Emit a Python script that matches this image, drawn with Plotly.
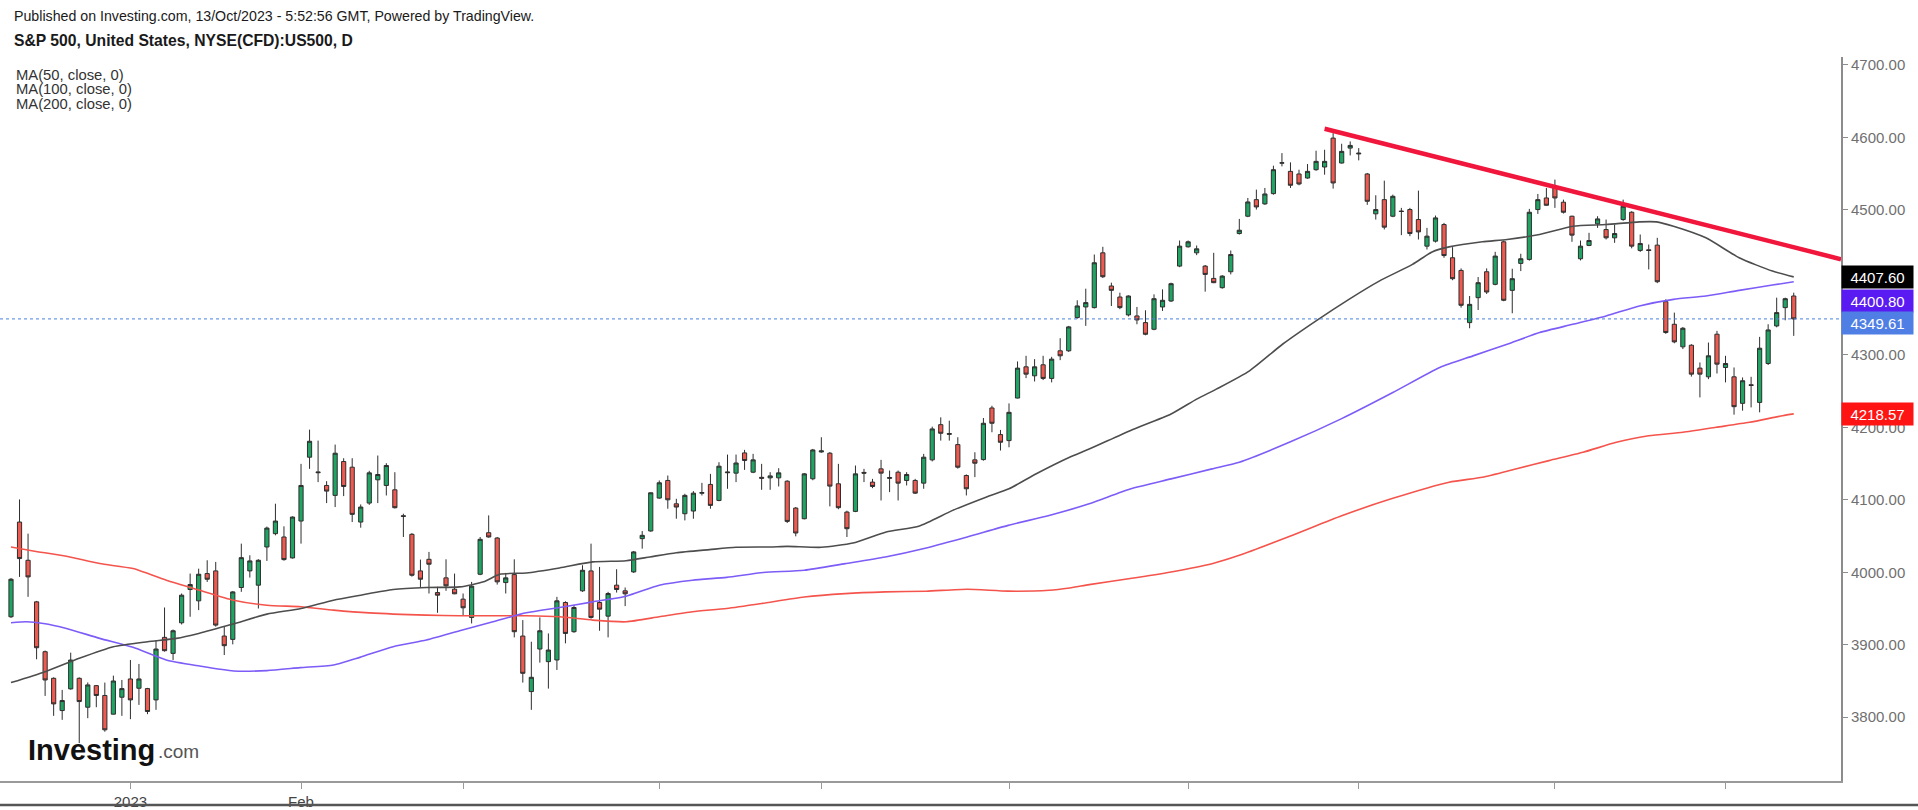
import plotly.graph_objects as go

# ---------------- data ----------------
opens = [3938.6,4069.3,4016.6,3959.2,3890.4,3853.7,3809.2,3839.1,3853.7,3813.8,
3843.6,3830.0,3804.2,3827.6,3852.8,3840.0,3839.5,3823.9,3910.2,3888.1,
3930.3,3976.2,3960.6,3998.2,4001.9,3912.0,3907.4,3979.0,4001.9,3982.2,
4034.9,4053.3,4048.7,4019.8,4070.7,4158.8,4138.5,4119.8,4106.1,4152.8,
4145.0,4069.3,4095.5,4127.6,4119.8,4113.8,4078.0,4052.4,4001.9,4017.9,
3972.0,3992.3,3976.7,3962.9,3937.7,3997.3,4054.6,4047.3,3985.8,3996.8,
3912.0,3835.4,3894.1,3876.7,3879.0,3958.3,3918.0,3974.4,4001.9,3958.3,
3939.5,3982.2,3974.4,4000.5,4046.4,4057.0,4102.4,4126.7,4094.5,4080.8,
4084.5,4109.0,4121.2,4099.1,4138.5,4136.8,4164.7,4138.1,4131.0,4130.3,
4130.3,4125.7,4088.6,4073.9,4129.0,4166.0,4164.3,4122.1,4083.1,4084.0,
4137.8,4124.4,4142.7,4130.8,4138.1,4126.7,4126.7,4123.0,4155.1,4203.7,
4191.5,4176.2,4133.5,4155.1,4155.5,4226.7,4190.0,4181.7,4240.4,4283.5,
4271.1,4286.3,4267.5,4305.6,4305.6,4351.4,4366.1,4365.2,4440.8,4395.0,
4379.8,4355.1,4353.7,4344.5,4335.3,4366.1,4374.3,4422.5,4449.1,4440.8,
4422.5,4405.5,4392.7,4414.7,4467.4,4491.3,4514.2,4508.3,4522.5,4564.5,
4553.2,4549.6,4544.0,4555.5,4559.2,4599.1,4564.7,4585.3,4578.5,4549.6,
4494.6,4514.2,4491.3,4498.5,4500.5,4486.7,4450.0,4456.9,4479.8,4434.0,
4416.5,4344.5,4378.9,4414.7,4397.3,4456.0,4389.0,4426.2,4431.7,4500.5,
4516.5,4530.3,4510.6,4491.3,4432.6,4451.0,4480.8,4472.9,4461.5,4486.7,
4496.8,4444.1,4445.0,4451.4,4373.4,4342.2,4311.1,4313.3,4281.7,4269.7,
4328.5,4282.6,4269.7,4233.1,4258.8,4234.4,4288.1,4339.9,4365.2,4381.2]

highs = [3992.0,4100.5,4053.3,3960.5,3892.0,3855.0,3837.7,3889.1,3855.0,3848.0,
3844.5,3847.8,3857.4,3851.4,3879.0,3873.5,3840.5,3906.5,3951.4,3921.0,
3970.7,3998.2,4005.0,4016.6,4014.3,3924.8,3974.0,4039.5,4023.5,4018.0,
4063.0,4094.6,4063.4,4077.1,4149.6,4196.8,4181.7,4125.7,4176.2,4157.4,
4157.4,4093.6,4140.0,4161.1,4150.5,4138.1,4080.8,4054.0,4017.5,4028.1,
3979.9,4017.9,3998.2,3970.7,3986.7,4048.7,4078.5,4048.7,3999.1,4017.9,
3934.0,3904.2,3937.7,3915.6,3966.1,3960.0,3954.6,4009.7,4039.5,4007.4,
3973.0,4004.2,3979.0,4029.4,4056.9,4110.0,4126.7,4133.5,4101.4,4108.3,
4112.0,4123.4,4135.8,4151.9,4162.4,4162.4,4168.9,4163.4,4149.6,4138.1,
4143.6,4127.0,4090.0,4137.0,4170.2,4186.3,4166.0,4149.6,4085.0,4147.3,
4142.7,4128.9,4155.1,4140.4,4140.4,4138.1,4128.9,4163.4,4201.0,4213.8,
4209.2,4186.3,4135.0,4165.6,4212.9,4229.8,4196.4,4233.0,4290.9,4298.7,
4294.1,4298.7,4297.3,4323.0,4340.0,4375.3,4391.3,4438.5,4449.1,4399.6,
4385.8,4382.1,4366.1,4361.5,4383.5,4390.4,4399.6,4457.8,4457.8,4450.9,
4424.0,4440.8,4410.0,4444.0,4487.6,4516.5,4528.0,4530.3,4561.0,4578.4,
4565.6,4555.5,4563.3,4581.7,4583.0,4606.0,4591.3,4594.5,4585.3,4551.0,
4520.2,4540.4,4521.1,4502.8,4502.8,4526.6,4475.2,4492.2,4482.1,4448.6,
4419.3,4381.2,4407.4,4419.3,4442.2,4457.8,4418.8,4439.5,4501.4,4522.0,
4530.3,4541.8,4514.2,4492.0,4457.8,4468.4,4491.3,4486.7,4479.8,4514.2,
4498.2,4466.1,4452.3,4461.5,4376.6,4358.3,4338.5,4314.7,4289.5,4317.0,
4333.1,4298.7,4282.6,4268.8,4269.7,4324.8,4342.2,4378.9,4378.9,4385.8]

lows = [3937.0,3993.6,3966.1,3879.9,3829.4,3801.9,3796.4,3838.0,3764.3,3798.7,
3813.8,3780.0,3804.0,3801.9,3797.3,3817.0,3804.2,3810.2,3890.5,3879.0,
3928.0,3938.6,3947.8,3986.7,3925.0,3885.8,3900.5,3973.0,3992.7,3950.0,
4015.7,4051.0,4016.0,4019.0,4039.5,4142.7,4124.4,4095.5,4090.0,4105.1,
4069.3,4061.5,4093.0,4095.5,4106.0,4088.0,4048.7,3994.0,3978.5,3970.7,
3944.1,3974.4,3969.8,3940.9,3929.4,3996.0,4047.8,3983.0,3970.7,3910.2,
3847.8,3810.2,3875.3,3839.5,3865.2,3901.9,3916.6,3973.0,3936.0,3919.3,
3910.2,3972.0,3953.3,3999.1,4032.6,4056.0,4101.4,4087.7,4073.9,4071.6,
4073.9,4106.0,4087.7,4098.0,4115.2,4124.4,4141.3,4136.8,4113.8,4113.8,
4118.4,4068.0,4049.6,4073.0,4127.0,4165.0,4090.9,4087.0,4048.7,4083.0,
4124.4,4116.1,4099.1,4110.6,4099.1,4119.8,4108.0,4115.2,4153.0,4181.7,
4181.7,4143.0,4106.0,4131.3,4154.0,4193.2,4168.0,4172.5,4240.0,4267.9,
4263.3,4265.2,4262.0,4292.7,4304.0,4350.0,4340.0,4364.0,4406.0,4367.4,
4363.0,4353.0,4342.2,4327.0,4334.0,4360.6,4373.0,4421.0,4448.0,4437.6,
4387.2,4399.0,4391.3,4411.0,4466.0,4490.0,4500.5,4507.0,4521.0,4560.1,
4530.3,4534.0,4543.0,4554.0,4548.6,4529.4,4564.0,4575.2,4568.4,4507.0,
4486.7,4473.0,4490.0,4465.2,4463.8,4459.2,4445.4,4455.0,4434.0,4403.0,
4365.2,4336.7,4361.9,4384.0,4396.0,4374.0,4357.4,4415.6,4430.0,4494.5,
4506.0,4502.8,4495.0,4456.0,4430.3,4450.0,4475.2,4459.2,4454.6,4485.0,
4447.0,4442.0,4417.9,4399.0,4329.0,4316.0,4308.0,4270.0,4241.3,4266.5,
4274.3,4262.0,4217.5,4223.0,4227.5,4220.7,4286.0,4338.0,4347.7,4326.2]

closes = [3990.4,4018.9,3993.6,3895.9,3851.4,3818.4,3823.0,3878.9,3821.6,3844.6,
3830.0,3782.6,3850.0,3839.5,3823.9,3852.8,3807.9,3894.1,3891.8,3919.3,
3968.4,3983.1,3997.3,3990.4,3927.1,3898.7,3972.9,4020.2,4015.7,4016.6,
4061.0,4070.7,4017.5,4076.2,4119.8,4180.8,4137.5,4112.0,4164.3,4118.4,
4079.9,4090.0,4137.2,4134.9,4147.3,4089.1,4077.2,3995.9,3990.4,4011.1,
3968.4,3981.3,3970.3,3951.0,3980.8,4045.5,4048.7,3986.8,3992.3,3918.0,
3860.6,3855.1,3919.3,3892.7,3960.6,3915.6,3951.4,4002.8,3937.7,3949.1,
3970.7,3976.2,3970.3,4028.1,4051.0,4109.7,4123.5,4100.0,4090.0,4106.1,
4109.2,4110.0,4092.3,4146.4,4137.5,4150.8,4154.2,4155.1,4129.8,4133.0,
4137.2,4070.2,4054.2,4135.8,4168.8,4167.5,4118.9,4089.1,4060.1,4135.8,
4136.8,4118.4,4136.8,4129.8,4123.0,4134.9,4109.2,4158.8,4197.8,4191.8,
4190.5,4145.0,4115.2,4150.5,4205.6,4205.6,4179.4,4220.7,4281.7,4273.4,
4283.5,4267.5,4294.1,4298.7,4338.6,4367.5,4372.1,4427.1,4407.8,4389.0,
4365.2,4381.2,4348.2,4328.4,4377.5,4375.3,4398.2,4450.0,4456.0,4446.3,
4411.0,4399.6,4408.7,4438.5,4472.0,4511.0,4504.1,4522.0,4555.5,4565.0,
4534.0,4535.8,4553.2,4567.0,4567.0,4537.2,4580.8,4589.0,4577.5,4511.9,
4500.5,4476.2,4518.8,4497.8,4467.4,4469.7,4463.8,4489.0,4437.0,4405.1,
4368.4,4369.7,4399.6,4386.7,4436.3,4375.3,4405.1,4432.6,4496.8,4514.2,
4506.4,4516.5,4496.8,4465.2,4450.0,4457.8,4487.6,4461.5,4467.4,4505.1,
4450.0,4453.7,4444.0,4400.9,4330.8,4317.9,4336.7,4273.4,4273.4,4298.7,
4287.2,4288.1,4228.5,4264.3,4257.8,4309.2,4334.4,4358.3,4377.5,4349.61]

bars = list(range(len(opens)))

# moving averages (bar index, value)
ma50_bars = [0,4,8,12,16,19.4,22,26,30,34,37.8,41,44.8,48.7,52.6,55.4,57.3,60.4,64.3,68.2,72.1,74.9,78,81.9,85,89,91,95,98.7,102.6,106.5,110.4,114.3,117,120.2,124.1,126.4,131.2,136,139,141.3,145.2,149.1,153,156.9,160.4,164.3,166.6,168.6,172.5,175.4,179.2,183.1,187,190.9,192.9,194.9,198.7,202.6,206.5,209]
ma50_vals = [3847.8,3862.9,3881.3,3897.3,3904.2,3908.8,3915.6,3928.5,3942.3,3950.1,3961.5,3968.4,3976.2,3979.0,3979.9,3986.8,3997.3,3999.1,4006.0,4014.3,4016.0,4021.2,4027.0,4031.3,4034.5,4034.9,4035.8,4034.5,4040.4,4055.6,4064.0,4085.4,4103.7,4115.2,4136.0,4158.8,4170.0,4195.4,4218.4,4238.9,4252.7,4278.0,4315.0,4347.0,4377.0,4401.8,4424.8,4442.0,4449.0,4456.0,4459.2,4466.1,4477.5,4479.8,4483.5,4483.5,4477.5,4461.5,4434.0,4415.6,4407.6]

ma100_bars = [0,1.8,3.8,6.5,10.4,14.3,18.2,22.1,26.1,30,33.9,37.8,40.9,44.8,48.7,52.6,56.5,60.4,64.3,68.2,72.1,76,79.9,83.9,88.2,93,97.8,102.5,107.3,112.1,116.9,121.7,126.4,131.2,136,140.8,144,150,156,162,167.5,171.4,175.4,179.2,183.1,187,190.9,194.9,198.7,202.6,206.5,209]
ma100_vals = [3930.3,3931.7,3929.4,3922.5,3908.8,3896.4,3879.0,3870.7,3863.8,3864.3,3868.4,3872.1,3882.6,3897.3,3906.5,3919.3,3931.7,3944.1,3951.4,3959.2,3967.0,3982.2,3989.1,3993.0,3999.6,4002.8,4011.9,4021.1,4033.5,4048.6,4064.7,4078.4,4094.5,4115.0,4128.9,4142.7,4151.9,4180.0,4212.0,4248.0,4282.6,4298.6,4314.7,4330.8,4342.2,4353.7,4367.5,4376.6,4381.2,4389.0,4396.3,4400.8]

ma200_bars = [0,2.6,6.5,10.4,14.3,18.2,22.1,26.1,30,34,37.8,42,48.7,52.6,60.4,64.3,68.2,72.1,76,79.9,83.9,88,93,97.8,102.5,107.3,112.1,116.9,121.7,124.1,126.4,131.2,136,140.8,144,150,156,162,168.6,172.5,176.4,180.3,184.3,188.2,192,196,199.9,203.8,207.7,209]
ma200_vals = [4034.9,4029.4,4022.1,4012.0,4005.1,3989.1,3975.3,3961.5,3954.6,3952.4,3947.8,3944.0,3940.9,3940.0,3940.0,3938.6,3934.0,3931.7,3938.6,3945.5,3950.1,3957.0,3966.0,3970.6,3972.9,3973.9,3976.6,3974.0,3975.2,3978.4,3983.0,3991.3,4000.5,4011.9,4023.4,4050.0,4078.0,4102.0,4124.3,4131.2,4142.6,4154.1,4165.6,4179.3,4188.5,4193.1,4200.0,4206.9,4216.1,4218.57]

trend_bars = [154.0, 214.54]
trend_vals = [4612.0, 4432.0]

last_price = 4349.61
ma50_last, ma100_last, ma200_last = 4407.60, 4400.80, 4218.57

month_ticks = [14, 34, 53, 76, 95, 117, 138, 158, 181, 201]
month_labels = ["2023", "Feb", "", "", "", "", "", "", "", ""]
price_ticks = [3800, 3900, 4000, 4100, 4200, 4300, 4400, 4500, 4600, 4700]
# the 4400.00 label sits under the price boxes in the reference
price_labels = ["3800.00", "3900.00", "4000.00", "4100.00", "4200.00",
                "4300.00", "", "4500.00", "4600.00", "4700.00"]

# ---------------- layout helpers ----------------
W, H = 1918, 810
ML, MR, MT, MB = 0, 77, 57, 27
PW, PH = W - ML - MR, H - MT - MB


def px(x):
    return (x - ML) / PW


def py(y):
    return (H - MB - y) / PH


NARROW = "Liberation Sans Narrow, Arial Narrow, Liberation Sans, Arial, sans-serif"
SANS = "Liberation Sans, Arial, sans-serif"

fig = go.Figure()
fig.add_trace(go.Candlestick(
    x=bars, open=opens, high=highs, low=lows, close=closes,
    increasing=dict(fillcolor="#1fa463", line=dict(color="#2e2e2e", width=1)),
    decreasing=dict(fillcolor="#ef5a50", line=dict(color="#2e2e2e", width=1)),
    whiskerwidth=0, showlegend=False, hoverinfo="skip"))

fig.add_trace(go.Scatter(x=ma200_bars, y=ma200_vals, mode="lines",
                         line=dict(color="#f4544c", width=1.6, shape="spline", smoothing=0.6),
                         showlegend=False, hoverinfo="skip"))
fig.add_trace(go.Scatter(x=ma100_bars, y=ma100_vals, mode="lines",
                         line=dict(color="#7d5cf7", width=1.6, shape="spline", smoothing=0.6),
                         showlegend=False, hoverinfo="skip"))
fig.add_trace(go.Scatter(x=ma50_bars, y=ma50_vals, mode="lines",
                         line=dict(color="#4d4d4d", width=1.6, shape="spline", smoothing=0.6),
                         showlegend=False, hoverinfo="skip"))
fig.add_trace(go.Scatter(x=trend_bars, y=trend_vals, mode="lines",
                         line=dict(color="#f0163c", width=4.5),
                         showlegend=False, hoverinfo="skip"))

shapes = [
    dict(type="line", xref="paper", yref="y", x0=0, x1=1, y0=last_price, y1=last_price,
         line=dict(color="#4a7fe0", width=1, dash="dot")),
    dict(type="line", xref="paper", yref="paper", x0=0, x1=W / PW, y0=py(807), y1=py(807),
         line=dict(color="#555555", width=2.5)),
]

annotations = [
    dict(text="Published on Investing.com, 13/Oct/2023 - 5:52:56 GMT, Powered by TradingView.",
         x=px(12), y=py(16), xref="paper", yref="paper", xanchor="left", yanchor="middle",
         showarrow=False, font=dict(family=NARROW, size=14.2, color="#1a1a1a")),
    dict(text="<b>S&P 500, United States, NYSE(CFD):US500, D</b>",
         x=px(12), y=py(40), xref="paper", yref="paper", xanchor="left", yanchor="middle",
         showarrow=False, font=dict(family=NARROW, size=15.7, color="#1a1a1a")),
]
for yy, t in [(75, "MA(50, close, 0)"), (89, "MA(100, close, 0)"), (104, "MA(200, close, 0)")]:
    annotations.append(dict(text=t, x=px(14), y=py(yy), xref="paper", yref="paper",
                            xanchor="left", yanchor="middle", showarrow=False,
                            font=dict(family=NARROW, size=14.8, color="#333333")))

# logo
annotations.append(dict(text="<b>Investing</b>", x=px(157), y=py(770), xref="paper", yref="paper",
                        xanchor="right", yanchor="bottom", showarrow=False,
                        font=dict(family=SANS, size=29, color="#111111")))
annotations.append(dict(text=".com", x=px(156), y=py(766), xref="paper", yref="paper",
                        xanchor="left", yanchor="bottom", showarrow=False,
                        font=dict(family=SANS, size=19, color="#555555")))

# price boxes on the axis
for val, col, shift in [(ma50_last, "#000000", 0), (ma100_last, "#5a1af2", -19),
                        (last_price, "#4f7fe4", -4), (ma200_last, "#ff1414", 0)]:
    annotations.append(dict(text=f"{val:.2f}", x=1, xref="paper", y=val, yref="y",
                            xanchor="left", yanchor="middle", yshift=shift, showarrow=False,
                            bgcolor=col, width=67, height=18, borderpad=2,
                            font=dict(family=SANS, size=15, color="#ffffff")))

fig.update_layout(
    width=W, height=H,
    margin=dict(l=ML, r=MR, t=MT, b=MB, pad=0),
    paper_bgcolor="#ffffff", plot_bgcolor="#ffffff",
    showlegend=False, boxgap=0.3,
    shapes=shapes, annotations=annotations,
    xaxis=dict(range=[-1.29, 214.54], rangeslider=dict(visible=False), showgrid=False,
               zeroline=False, showline=True, linecolor="#9a9a9a", linewidth=2,
               ticks="outside", ticklen=6, tickcolor="#9a9a9a",
               tickvals=month_ticks, ticktext=month_labels,
               tickfont=dict(family=NARROW, size=15, color="#444444")),
    yaxis=dict(side="right", range=[3712, 4711], showgrid=False, zeroline=False,
               showline=True, linecolor="#8c8c8c", linewidth=2, ticks="outside",
               ticklen=5, tickcolor="#8c8c8c", tickvals=price_ticks, ticktext=price_labels,
               tickfont=dict(family=SANS, size=15, color="#707070")),
)

fig.write_html("out.html")
